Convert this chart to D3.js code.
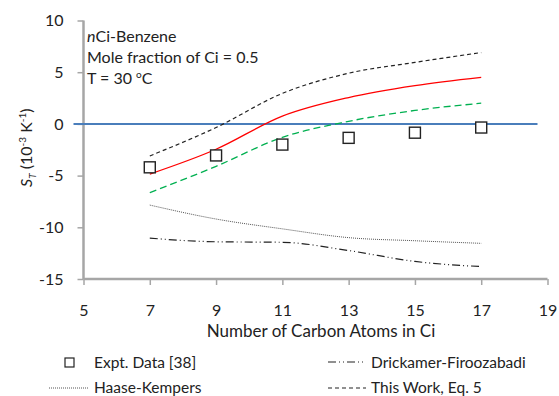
<!DOCTYPE html>
<html>
<head>
<meta charset="utf-8">
<title>ST vs carbon number</title>
<script src="https://cdn.jsdelivr.net/npm/d3@7"></script>
<style>
  body { margin: 0; background: #fff; }
  text { font-family: Lato, "Open Sans", sans-serif; fill: #222; }
</style>
</head>
<body>
<div id="chart"></div>
<script>
// carbon numbers (x) and series values (10^-3 K^-1)
var carbons = [7, 9, 11, 13, 15, 17];
var exptData = [-4.2, -3.05, -2.0, -1.35, -0.85, -0.35];
var thisWork = [-3.1, -0.35, 2.95, 4.9, 5.95, 6.9];
var redModel = [-4.85, -2.45, 0.75, 2.55, 3.7, 4.5];
var greenModel = [-6.65, -4.1, -1.3, 0.25, 1.3, 2.0];
var haaseKempers = [-7.85, -9.2, -10.15, -11.0, -11.3, -11.55];
var drickamer = [-11.05, -11.4, -11.45, -12.25, -13.3, -13.8];
var xTicks = [5, 7, 9, 11, 13, 15, 17, 19];
var yTicks = [-15, -10, -5, 0, 5, 10];

var width = 559, height = 396;

var svg = d3.select("#chart").append("svg")
    .attr("width", width)
    .attr("height", height);

var x = d3.scaleLinear().domain([5, 19]).range([83.5, 547.5]);
var y = d3.scaleLinear().domain([-15, 10]).range([279, 20.5]);

var axisColor = "#a6a6a6";
var plainNum = function(d) { return String(d); };

// y axis
var yAxis = svg.append("g")
    .attr("transform", "translate(" + x(5) + ",0)")
    .call(d3.axisLeft(y).tickValues(yTicks).tickSize(6).tickFormat(plainNum));
yAxis.select(".domain").attr("stroke", axisColor).attr("stroke-width", 2.5)
    .attr("d", "M0," + y(10) + "V" + y(-15));
yAxis.selectAll(".tick line").attr("stroke", axisColor).attr("stroke-width", 1.5);
yAxis.selectAll(".tick text")
    .attr("x", -20)
    .style("font-size", "16px")
    .attr("fill", "#222");

// x axis
var xAxis = svg.append("g")
    .attr("transform", "translate(0," + y(-15) + ")")
    .call(d3.axisBottom(x).tickValues(xTicks).tickSize(6).tickFormat(plainNum));
xAxis.select(".domain").attr("stroke", axisColor).attr("stroke-width", 2.5)
    .attr("d", "M" + x(5) + ",0H" + x(19));
xAxis.selectAll(".tick line").attr("stroke", axisColor).attr("stroke-width", 1.5);
xAxis.selectAll(".tick text")
    .attr("y", 26)
    .style("font-size", "16px")
    .attr("fill", "#222");

// zero line
svg.append("line")
    .attr("x1", x(5) - 10).attr("x2", x(19) - 10)
    .attr("y1", y(0)).attr("y2", y(0))
    .attr("stroke", "#4a7ebb")
    .attr("stroke-width", 2);

var line = d3.line()
    .x(function(d) { return x(d[0]); })
    .y(function(d) { return y(d[1]); })
    .curve(d3.curveMonotoneX);

function drawSeries(values, color, width, dash) {
    svg.append("path")
        .datum(d3.zip(carbons, values))
        .attr("d", line)
        .attr("fill", "none")
        .attr("stroke", color)
        .attr("stroke-width", width)
        .attr("stroke-dasharray", dash);
}

drawSeries(haaseKempers, "#555", 1, "1,1");
drawSeries(drickamer, "#222", 1.2, "8,3,1,3,1,3");
drawSeries(greenModel, "#00b050", 1.3, "7,4");
drawSeries(redModel, "#ff0000", 1.3, null);
drawSeries(thisWork, "#222", 1.2, "4,3");

// experimental squares
svg.selectAll(".expt")
    .data(d3.zip(carbons, exptData))
    .enter().append("rect")
    .attr("class", "expt")
    .attr("x", function(d) { return x(d[0]) - 5.5; })
    .attr("y", function(d) { return y(d[1]) - 5.5; })
    .attr("width", 11)
    .attr("height", 11)
    .attr("fill", "#fff")
    .attr("stroke", "#222")
    .attr("stroke-width", 1.4);

// annotation
var note = svg.append("text").style("font-size", "16px");
note.append("tspan").attr("x", 87).attr("y", 42).style("font-style", "italic").text("n");
note.append("tspan").text("Ci-Benzene");
svg.append("text").attr("x", 87).attr("y", 63).style("font-size", "16px")
    .text("Mole fraction of Ci = 0.5");
var tNote = svg.append("text").attr("x", 87).attr("y", 84).style("font-size", "16px");
tNote.append("tspan").text("T = 30 ");
tNote.append("tspan").attr("dy", -6).style("font-size", "10px").text("o");
tNote.append("tspan").attr("dy", 6).text("C");

// axis titles
var yTitle = svg.append("text")
    .attr("transform", "translate(32," + y(-2.3) + ") rotate(-90)")
    .attr("text-anchor", "middle")
    .style("font-size", "16px");
yTitle.append("tspan").style("font-style", "italic").text("S");
yTitle.append("tspan").attr("dy", 4).style("font-size", "10px").style("font-style", "italic").text("T");
yTitle.append("tspan").attr("dy", -4).text(" (10");
yTitle.append("tspan").attr("dy", -6).style("font-size", "10px").text("-3");
yTitle.append("tspan").attr("dy", 6).text(" K");
yTitle.append("tspan").attr("dy", -6).style("font-size", "10px").text("-1");
yTitle.append("tspan").attr("dy", 6).text(")");

svg.append("text")
    .attr("x", 321).attr("y", 337)
    .attr("text-anchor", "middle")
    .style("font-size", "17px")
    .text("Number of Carbon Atoms in Ci");

// legend
var legend = svg.append("g").style("font-size", "15.5px");
legend.append("rect").attr("x", 65).attr("y", 358).attr("width", 9).attr("height", 9)
    .attr("fill", "#fff").attr("stroke", "#222").attr("stroke-width", 1.2);
legend.append("text").attr("x", 94).attr("y", 368).text("Expt. Data [38]");

legend.append("line").attr("x1", 49).attr("x2", 88).attr("y1", 388).attr("y2", 388)
    .attr("stroke", "#555").attr("stroke-width", 1).attr("stroke-dasharray", "1,1");
legend.append("text").attr("x", 94).attr("y", 393).text("Haase-Kempers");

legend.append("line").attr("x1", 328).attr("x2", 366).attr("y1", 362).attr("y2", 362)
    .attr("stroke", "#222").attr("stroke-width", 1.2).attr("stroke-dasharray", "8,3,1,3,1,3");
legend.append("text").attr("x", 371).attr("y", 368).text("Drickamer-Firoozabadi");

legend.append("line").attr("x1", 328).attr("x2", 366).attr("y1", 388).attr("y2", 388)
    .attr("stroke", "#222").attr("stroke-width", 1.2).attr("stroke-dasharray", "4,3");
legend.append("text").attr("x", 371).attr("y", 393).text("This Work, Eq. 5");
</script>
</body>
</html>
